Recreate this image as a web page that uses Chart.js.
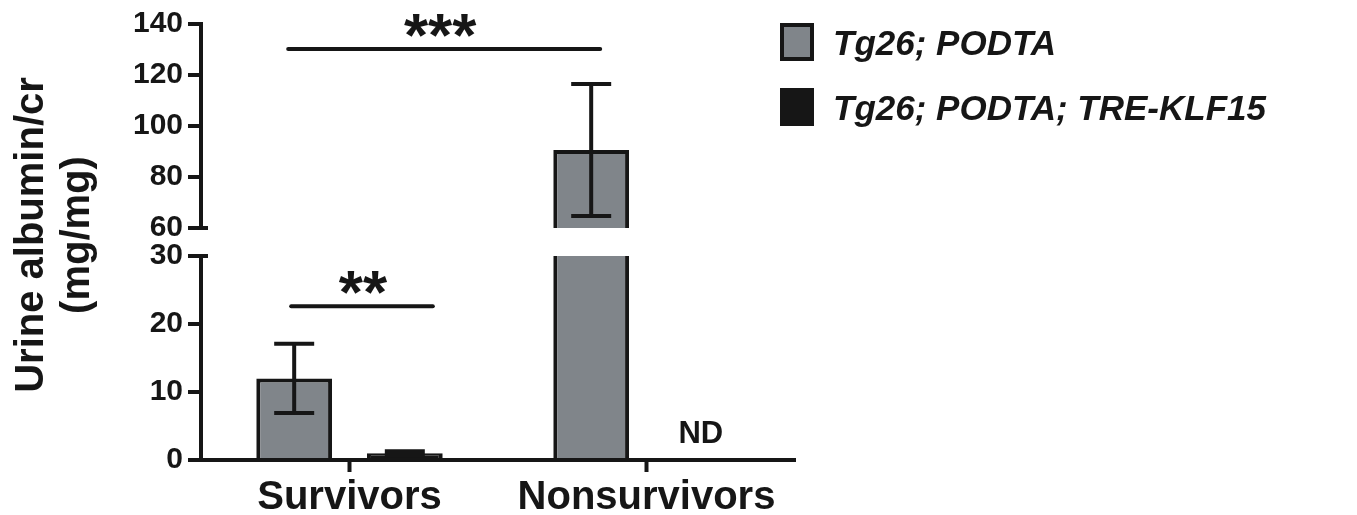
<!DOCTYPE html>
<html><head><meta charset="utf-8">
<script src="https://cdn.jsdelivr.net/npm/chart.js@4/dist/chart.umd.min.js"></script>
<style>
html,body{margin:0;padding:0;background:#fff;}
#wrap{position:relative;width:1357px;height:515px;overflow:hidden;}
canvas{position:absolute;left:0;top:0;}
</style>
</head><body>
<div id="wrap"><canvas id="lower" width="1357" height="515"></canvas><canvas id="upper" width="1357" height="515"></canvas></div>
<script>
// ---- data ----
const categories = ['Survivors', 'Nonsurvivors'];
const seriesLabels = ['Tg26; PODTA', 'Tg26; PODTA; TRE-KLF15'];
const podtaMean = [12.0, 90.6];
const podtaSem = [5.1, 25.9];
const klf15Mean = [1.0, null];
const klf15Sem = [0.3, null];
const upperTicks = [60, 80, 100, 120, 140];
const lowerTicks = [0, 10, 20, 30];
const yTitle = ['Urine albumin/cr', '(mg/mg)'];
const sigTop = '***';
const sigBottom = '**';
const ndLabel = 'ND';

// ---- style ----
const INK = '#161616';
const GRAY = '#80858a';
const FONT = '"Liberation Sans", Arial, Helvetica, sans-serif';
const LW = 4;
const means = [podtaMean, klf15Mean];
const sems = [podtaSem, klf15Sem];
const fills = [GRAY, INK];
const AXIS_W = 201, RIGHT_PAD = 562;

function makeDatasets(minV) {
  return means.map((m, i) => ({
    label: seriesLabels[i],
    data: m.map(v => (v == null || v < minV) ? null : v),
    backgroundColor: fills[i],
    borderColor: INK,
    borderWidth: LW,
    borderSkipped: 'start',
    clip: 0,
    categoryPercentage: 0.745,
    barPercentage: 0.685
  }));
}

function yScale(ticks) {
  return {
    type: 'linear',
    min: ticks[0], max: ticks[ticks.length - 1],
    afterBuildTicks: s => { s.ticks = ticks.map(v => ({ value: v })); },
    afterFit: s => { s.width = AXIS_W; s.paddingTop = 0; s.paddingBottom = 0; },
    border: { display: true, color: INK, width: LW },
    grid: { drawOnChartArea: false, drawTicks: true, tickLength: 13, tickWidth: LW, tickColor: INK, color: INK, lineWidth: LW },
    ticks: { color: INK, font: { family: FONT, size: 30, weight: 'bold' }, padding: 5 }
  };
}

const errPlugin = {
  id: 'errbars',
  afterDatasetsDraw(chart) {
    const ctx = chart.ctx, ys = chart.scales.y, a = chart.chartArea;
    ctx.save();
    ctx.beginPath(); ctx.rect(a.left, a.top - 2, a.right - a.left, a.bottom - a.top + 4); ctx.clip();
    ctx.strokeStyle = INK; ctx.lineWidth = LW;
    means.forEach((m, di) => {
      const meta = chart.getDatasetMeta(di);
      m.forEach((v, j) => {
        const s = sems[di][j];
        if (v == null || s == null) return;
        const x = meta.data[j].x;
        const yt = ys.getPixelForValue(v + s), yb = ys.getPixelForValue(v - s);
        ctx.beginPath();
        ctx.moveTo(x, yt); ctx.lineTo(x, yb);
        ctx.moveTo(x - 20, yt); ctx.lineTo(x + 20, yt);
        ctx.moveTo(x - 20, yb); ctx.lineTo(x + 20, yb);
        ctx.stroke();
      });
    });
    ctx.restore();
  }
};

function hline(ctx, x1, x2, y) {
  ctx.beginPath(); ctx.moveTo(x1, y); ctx.lineTo(x2, y); ctx.stroke();
}

const upperDeco = {
  id: 'upperDeco',
  afterDraw(chart) {
    const ctx = chart.ctx, ys = chart.scales.y, a = chart.chartArea;
    const m0 = chart.getDatasetMeta(0);
    ctx.save();
    ctx.strokeStyle = INK; ctx.fillStyle = INK; ctx.lineWidth = LW; ctx.lineCap = 'round';
    // significance bar ***
    const xa = m0.data[0].x - 6, xb = m0.data[1].x + 9;
    const yl = ys.getPixelForValue(130.2);
    hline(ctx, xa, xb, yl);
    ctx.font = 'bold 62px ' + FONT; ctx.textAlign = 'center'; ctx.textBaseline = 'alphabetic';
    ctx.fillText(sigTop, (xa + xb) / 2 - 4, yl + 7);
    // axis break cap
    ctx.lineCap = 'butt';
    hline(ctx, a.left, a.left + 7, a.bottom);
    // legend
    chart.data.datasets.forEach((ds, i) => {
      const bx = 780, by = 23 + i * 65;
      ctx.fillStyle = ds.backgroundColor;
      ctx.fillRect(bx, by, 34, 38);
      ctx.strokeStyle = INK; ctx.lineWidth = LW;
      ctx.strokeRect(bx + 2, by + 2, 30, 34);
      ctx.fillStyle = INK;
      ctx.font = 'italic bold 35px ' + FONT; ctx.textAlign = 'left';
      ctx.fillText(ds.label, 833, 55 + i * 65);
    });
    ctx.restore();
  }
};

const lowerDeco = {
  id: 'lowerDeco',
  afterDraw(chart) {
    const ctx = chart.ctx, ys = chart.scales.y, xs = chart.scales.x, a = chart.chartArea;
    const m0 = chart.getDatasetMeta(0), m1 = chart.getDatasetMeta(1);
    ctx.save();
    ctx.strokeStyle = INK; ctx.fillStyle = INK; ctx.lineWidth = LW; ctx.lineCap = 'round';
    // significance bar **
    const xa = m0.data[0].x - 3, xb = m1.data[0].x + 28;
    const yl = ys.getPixelForValue(22.6);
    hline(ctx, xa, xb, yl);
    ctx.font = 'bold 62px ' + FONT; ctx.textAlign = 'center'; ctx.textBaseline = 'alphabetic';
    ctx.fillText(sigBottom, (xa + xb) / 2 + 1, yl + 7);
    // ND label at position of missing bar
    let xnd = m1.data[1] && isFinite(m1.data[1].x) ? m1.data[1].x
      : xs.getPixelForValue(1) + (m1.data[0].x - xs.getPixelForValue(0));
    ctx.font = 'bold 31px ' + FONT;
    ctx.fillText(ndLabel, xnd - 1, ys.getPixelForValue(2.5));
    // axis break cap
    ctx.lineCap = 'butt';
    hline(ctx, a.left, a.left + 7, a.top);
    // y title spanning both segments
    ctx.font = 'bold 40px ' + FONT;
    ctx.translate(43, 235); ctx.rotate(-Math.PI / 2);
    ctx.fillText(yTitle[0], 0, 0);
    ctx.fillText(yTitle[1], 0, 46);
    ctx.restore();
  }
};

Chart.defaults.font.family = FONT;
Chart.defaults.color = INK;

new Chart(document.getElementById('lower'), {
  type: 'bar',
  data: { labels: categories, datasets: makeDatasets(-Infinity) },
  options: {
    responsive: false, animation: false, devicePixelRatio: 1,
    layout: { padding: { top: 256, bottom: 0, left: 0, right: RIGHT_PAD } },
    plugins: { legend: { display: false }, tooltip: { enabled: false } },
    scales: {
      x: {
        type: 'category', offset: true,
        afterFit: s => { s.height = 55; s.paddingLeft = 0; s.paddingRight = 0; },
        border: { display: true, color: INK, width: LW },
        grid: { offset: false, drawOnChartArea: false, drawTicks: true, tickLength: 12, tickWidth: LW, tickColor: INK, color: INK },
        ticks: { color: INK, font: { family: FONT, size: 40, weight: 'bold' }, padding: 2, maxRotation: 0, autoSkip: false }
      },
      y: yScale(lowerTicks)
    }
  },
  plugins: [errPlugin, lowerDeco]
});

new Chart(document.getElementById('upper'), {
  type: 'bar',
  data: { labels: categories, datasets: makeDatasets(upperTicks[0]) },
  options: {
    responsive: false, animation: false, devicePixelRatio: 1,
    layout: { padding: { top: 24, bottom: 515 - 228, left: 0, right: RIGHT_PAD } },
    plugins: { legend: { display: false }, tooltip: { enabled: false } },
    scales: {
      x: { type: 'category', offset: true, display: false },
      y: yScale(upperTicks)
    }
  },
  plugins: [errPlugin, upperDeco]
});
</script>
</body></html>
